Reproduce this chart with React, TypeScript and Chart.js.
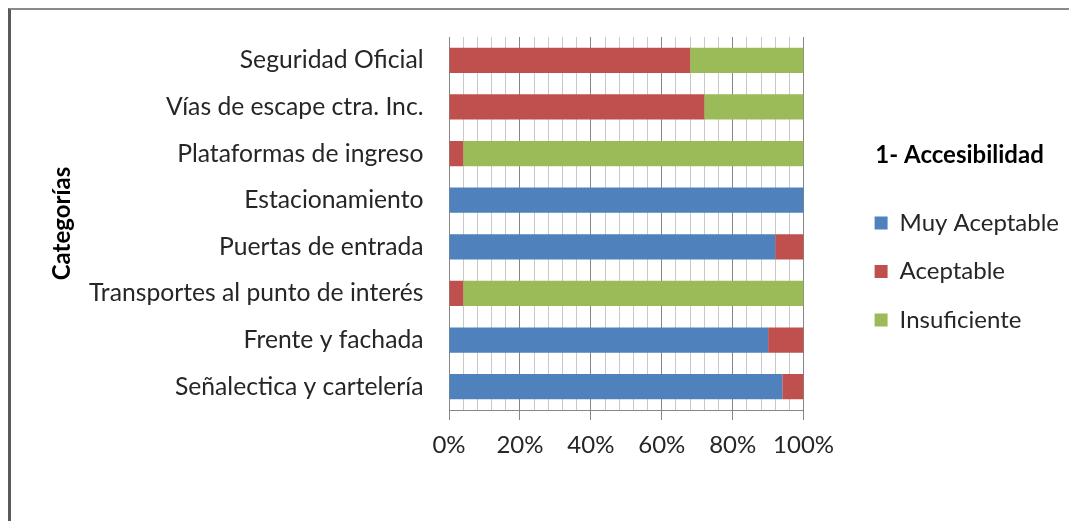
import React, { useEffect, useRef } from "react";
import { Chart, registerables } from "chart.js";

Chart.register(...registerables);

const categories = [
  "Seguridad Oficial",
  "Vías de escape ctra. Inc.",
  "Plataformas de ingreso",
  "Estacionamiento",
  "Puertas de entrada",
  "Transportes al punto de interés",
  "Frente y fachada",
  "Señalectica y cartelería",
];
const muyAceptable = [0, 0, 0, 100, 92, 0, 90, 94];
const aceptable = [68, 72, 4, 0, 8, 4, 10, 6];
const insuficiente = [32, 28, 96, 0, 0, 96, 0, 0];
const seriesNames = ["Muy Aceptable", "Aceptable", "Insuficiente"];
const legendTitle = "1- Accesibilidad";
const axisTitle = "Categorías";

const FONT = "Lato";
const FS = 24;
const TEXT = "#262626";

export default function App() {
  const ref = useRef<HTMLCanvasElement | null>(null);
  useEffect(() => {
    if (!ref.current) return;
    const chart = new Chart(ref.current, {
      type: "bar",
      data: {
        labels: categories,
        datasets: [
          { label: seriesNames[0], data: muyAceptable, backgroundColor: "#4f81bd" },
          { label: seriesNames[1], data: aceptable, backgroundColor: "#c0504d" },
          { label: seriesNames[2], data: insuficiente, backgroundColor: "#9bbb59" },
        ],
      },
      options: {
        indexAxis: "y",
        animation: false,
        responsive: true,
        maintainAspectRatio: false,
        datasets: { bar: { categoryPercentage: 1, barPercentage: 0.54 } },
        layout: { padding: { top: 27, left: 0, right: 0, bottom: 0 } },
        scales: {
          x: {
            stacked: true,
            min: 0,
            max: 100,
            ticks: {
              stepSize: 4,
              autoSkip: false,
              maxRotation: 0,
              padding: 11,
              color: TEXT,
              font: { family: FONT, size: FS },
              callback: (v: any) => (Number(v) % 20 === 0 ? `${v}%` : ""),
            },
            grid: {
              color: (c: any) => (c.tick && c.tick.value % 20 === 0 ? "#868686" : "#c8c8c8"),
              tickColor: (c: any) => (c.tick && c.tick.value % 20 === 0 ? "#868686" : "rgba(0,0,0,0)"),
              tickLength: 10,
              lineWidth: 1,
            },
            border: { display: true, color: "#868686" },
            afterFit: (s: any) => {
              s.height = 111;
            },
          },
          y: {
            stacked: true,
            ticks: {
              padding: 0,
              color: TEXT,
              font: { family: FONT, size: 24.7 },
            },
            grid: {
              display: true,
              drawOnChartArea: false,
              drawTicks: true,
              tickLength: 25.5,
              tickColor: "rgba(0,0,0,0)",
            },
            border: { display: false },
            title: {
              display: true,
              text: axisTitle,
              color: "#000",
              font: { family: FONT, size: FS, weight: "bold" },
              padding: { top: 37, bottom: 0 },
            },
            afterFit: (s: any) => {
              s.width = 438;
            },
          },
          y2: {
            type: "linear",
            position: "right",
            axis: "y",
            display: true,
            ticks: { display: false },
            grid: { display: false },
            border: { display: false },
            afterFit: (s: any) => {
              s.width = 46.5;
            },
          },
        },
        plugins: {
          tooltip: { enabled: false },
          legend: {
            position: "right",
            align: "start",
            maxWidth: 400,
            title: {
              display: true,
              text: legendTitle,
              position: "center",
              color: "#000",
              font: { family: FONT, size: FS, weight: "bold" },
              padding: { top: 106, bottom: 14.7 },
            },
            labels: {
              boxWidth: 13,
              boxHeight: 13,
              padding: 24.5,
              color: TEXT,
              font: { family: FONT, size: FS },
            },
          },
        },
      },
    } as any);
    return () => chart.destroy();
  }, []);

  return (
    <div
      style={{
        width: 1058,
        height: 511,
        borderTop: "2px solid #8a8a8a",
        borderLeft: "3px solid #5a5a5a",
        position: "relative",
      }}
    >
      <canvas ref={ref} />
    </div>
  );
}
